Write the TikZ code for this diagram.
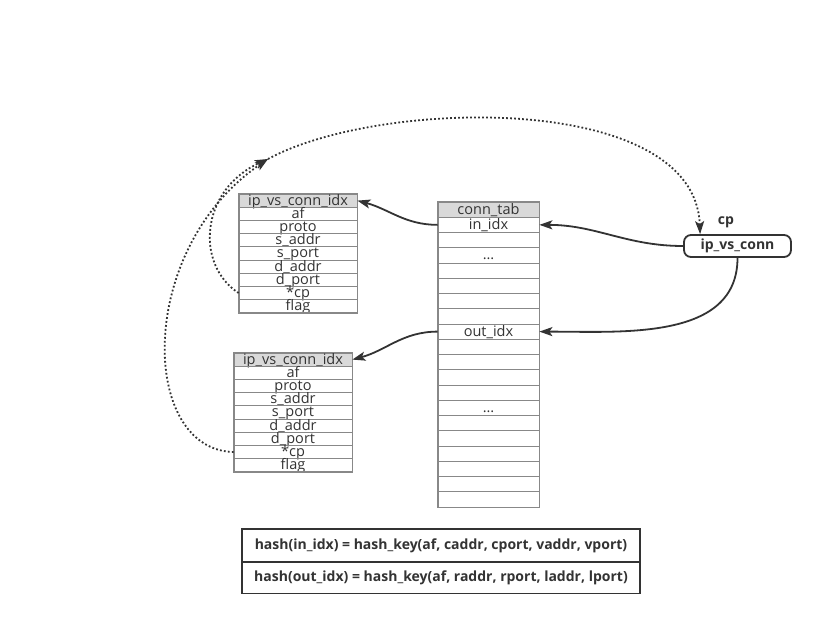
\documentclass[tikz,border=0pt]{standalone}
\usepackage{fontspec}
\setmainfont{Open Sans}
\usetikzlibrary{arrows.meta}
\definecolor{ink}{HTML}{333333}
\definecolor{rim}{HTML}{888888}
\definecolor{cap}{HTML}{D9D9D9}
\tikzset{
  field/.style={draw=rim, line width=0.7pt, minimum width=118pt, minimum height=13.2pt,
    inner sep=0pt, text height=10.5pt, text depth=1.5pt, text=ink, font=\fontsize{14.5}{14.5}\selectfont},
  head/.style={field, fill=cap},
  slot/.style={field, minimum width=101pt, minimum height=15.25pt},
  rimline/.style={draw=rim, line width=1.6pt},
  link/.style={draw=ink, line width=1.8pt, -{Stealth[length=13pt, width=9pt, inset=3pt]}},
  ptr/.style={draw=ink, line width=1.8pt, dash pattern=on 1.8pt off 2.2pt,
    -{Stealth[length=13pt, width=9pt, inset=3pt]}},
  boldtext/.style={text=ink, font=\bfseries\fontsize{14}{14}\selectfont}
}
\begin{document}
\begin{tikzpicture}[x=1pt, y=-1pt]
  \useasboundingbox[fill=white] (0,0) rectangle (838,625);

  % upper ip_vs_conn_idx
  \node[head] (u0) at (298,200.6) {ip\_vs\_conn\_idx};
  \foreach \t [count=\i] in {af, proto, s\_addr, s\_port, d\_addr, d\_port, *cp, flag}
    \node[field] (u\i) at (298,200.6+\i*13.2) {\t};
  \draw[rimline] (u0.north west) rectangle (u8.south east);

  % lower ip_vs_conn_idx
  \node[head] (l0) at (293,359.6) {ip\_vs\_conn\_idx};
  \foreach \t [count=\i] in {af, proto, s\_addr, s\_port, d\_addr, d\_port, *cp, flag}
    \node[field] (l\i) at (293,359.6+\i*13.2) {\t};
  \draw[rimline] (l0.north west) rectangle (l8.south east);

  % conn_tab
  \node[slot, fill=cap] (c0) at (488.5,209.6) {conn\_tab};
  \foreach \t [count=\i] in {in\_idx, {}, \ldots, {}, {}, {}, {}, out\_idx, {}, {}, {}, {},
      \ldots, {}, {}, {}, {}, {}, {}}
    \node[slot] (c\i) at (488.5,209.6+\i*15.25) {\t};
  \draw[rimline] (c0.north west) rectangle (c19.south east);

  % ip_vs_conn
  \node[draw=ink, line width=1.8pt, rounded corners=7pt, fill=white, minimum width=107pt,
    minimum height=22pt, inner sep=0pt, boldtext] (conn) at (737.5,246) {ip\_vs\_conn};
  \node[boldtext] (cp) at (726,222) {cp};

  % hash keys
  \node[draw=ink, line width=1.6pt, minimum width=398pt, minimum height=32.5pt, boldtext]
    (k1) at (441,545.5) {hash(in\_idx) = hash\_key(af, caddr, cport, vaddr, vport)};
  \node[draw=ink, line width=1.6pt, minimum width=398pt, minimum height=32pt, boldtext]
    (k2) at (441,577.5) {hash(out\_idx) = hash\_key(af, raddr, rport, laddr, lport)};

  % links
  \draw[link] (c1.west) to[out=180, in=-15] (u0.east);
  \draw[link] (c8.west) to[out=180, in=15] (l0.east);
  \draw[link] (conn.west) to[out=180, in=0] (c1.east);
  \draw[link] (conn.south) to[out=-90, in=0] (c8.east);

  % cp pointers
  \coordinate (join) at (268,159);
  \draw[ptr] (u7.west) .. controls (195,265) and (200,190) .. (join);
  \draw[ptr] (l7.west) .. controls (140,450) and (135,250) .. (join);
  \draw[ptr] (join) .. controls (380,98) and (695,92) .. ([xshift=17pt]conn.north west);
\end{tikzpicture}
\end{document}
